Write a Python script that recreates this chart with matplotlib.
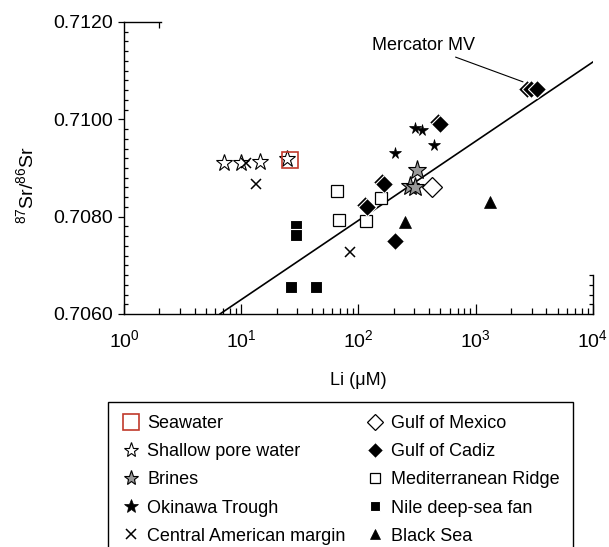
import numpy as np
import matplotlib
matplotlib.use("Agg")
import matplotlib.pyplot as plt
from matplotlib.ticker import LogLocator, MultipleLocator, NullFormatter

plt.rcParams['font.family'] = ['Liberation Sans', 'DejaVu Sans']
plt.rcParams['mathtext.fontset'] = 'custom'
plt.rcParams['mathtext.rm'] = 'Liberation Sans'
plt.rcParams['mathtext.it'] = 'Liberation Sans:italic'
plt.rcParams['mathtext.bf'] = 'Liberation Sans:bold'

# Li (uM) and 87Sr/86Sr for each group
seawater_li = [26]
seawater_sr = [0.70917]

shallow_li = [7.1, 10, 14.4, 24.6]
shallow_sr = [0.70910, 0.70910, 0.70912, 0.70918]

brines_li = [316, 275, 303]
brines_sr = [0.70896, 0.70863, 0.70861]

okinawa_li = [303, 348, 440, 205]
okinawa_sr = [0.70982, 0.70978, 0.70947, 0.70931]

cam_li = [11, 13.4, 84.5]
cam_sr = [0.70910, 0.70867, 0.70727]

gom_li = [424]
gom_sr = [0.70861]

cadiz_li = [113.6, 118, 159, 165, 476, 496, 2735, 2958, 3328, 205]
cadiz_sr = [0.70824, 0.70820, 0.70871, 0.70867, 0.70995, 0.70990,
            0.71062, 0.71062, 0.71062, 0.70750]

medridge_li = [65.6, 68, 116, 155]
medridge_sr = [0.70853, 0.70793, 0.70791, 0.70838]

nile_li = [29.3, 29.3, 26.6, 43.4]
nile_sr = [0.70781, 0.70762, 0.70656, 0.70656]

blacksea_li = [1324, 249]
blacksea_sr = [0.70830, 0.70789]

# regression: Sr = a + b * log10(Li)
fit_a = 0.704667
fit_b = 0.001628

# Mercator MV label and where its leader line ends
mercator_text = (986, 0.71152)
mercator_point = (2530, 0.71077)

fig = plt.figure(figsize=(6.09, 5.47), dpi=100)
ax = fig.add_axes([0.2036, 0.4260, 0.7701, 0.5338])

fit_x = np.logspace(np.log10(6.59), 4, 50)
ax.plot(fit_x, fit_a + fit_b * np.log10(fit_x), color='black', lw=1.2, zorder=1)

ax.plot(seawater_li, seawater_sr, 's', ms=11, mfc='none', mec='#c0392b', mew=1.2,
        label='Seawater', zorder=5)
ax.plot(shallow_li, shallow_sr, '*', ms=12.5, mfc='white', mec='black', mew=0.8,
        label='Shallow pore water', zorder=4)
ax.plot(brines_li, brines_sr, '*', ms=14, mfc='#999999', mec='black', mew=0.8,
        label='Brines', zorder=4)
ax.plot(okinawa_li, okinawa_sr, '*', ms=8.5, mfc='black', mec='black', mew=0.5,
        label='Okinawa Trough', zorder=4)
ax.plot(cam_li, cam_sr, 'x', ms=7.5, color='black', mew=1.1,
        label='Central American margin', zorder=4)
ax.plot(gom_li, gom_sr, 'D', ms=10, mfc='white', mec='black', mew=0.9,
        label='Gulf of Mexico', zorder=4)
ax.plot(cadiz_li, cadiz_sr, 'D', ms=9, mfc='black', mec='white', mew=0.8,
        label='Gulf of Cadiz', zorder=4)
ax.plot(medridge_li, medridge_sr, 's', ms=9, mfc='white', mec='black', mew=0.9,
        label='Mediterranean Ridge', zorder=3)
ax.plot(nile_li, nile_sr, 's', ms=8, mfc='black', mec='white', mew=0.8,
        label='Nile deep-sea fan', zorder=3)
ax.plot(blacksea_li, blacksea_sr, '^', ms=8, mfc='black', mec='black', mew=0.5,
        label='Black Sea', zorder=3)

ax.annotate('Mercator MV', xy=mercator_point, xytext=mercator_text,
            ha='right', va='center', fontsize=13,
            arrowprops=dict(arrowstyle='-', color='black', lw=0.8,
                            shrinkA=1, shrinkB=0))

ax.set_xscale('log')
ax.set_xlim(1, 1e4)
ax.set_ylim(0.7060, 0.7120)
ax.xaxis.set_major_locator(LogLocator(base=10, numticks=10))
ax.xaxis.set_minor_locator(LogLocator(base=10, subs=np.arange(2, 10), numticks=20))
ax.xaxis.set_minor_formatter(NullFormatter())
ax.yaxis.set_major_locator(MultipleLocator(0.002))
ax.yaxis.set_minor_locator(MultipleLocator(0.0002))
ax.yaxis.set_major_formatter(plt.FormatStrFormatter('%.4f'))

ax.tick_params(axis='x', which='major', direction='in', length=7, width=0.9,
               labelsize=14, pad=11, top=False)
ax.tick_params(axis='x', which='minor', direction='in', length=4, width=0.9, top=True)
ax.tick_params(axis='y', which='major', direction='out', length=4, width=0.9,
               labelsize=14, pad=4, right=False)
ax.tick_params(axis='y', which='minor', direction='in', length=3, width=0.9, right=True)

# only short pieces of the top and right frame are drawn
top_end = 2.05
right_end = 0.70681
for side in ['left', 'bottom', 'top', 'right']:
    ax.spines[side].set_linewidth(1.0)
ax.spines['top'].set_bounds(1, top_end)
ax.spines['right'].set_bounds(0.7060, right_end)

ax.set_xlabel('Li (\u03bcM)', fontsize=13, labelpad=15)
ax.set_ylabel('$^{87}$Sr/$^{86}$Sr', fontsize=14)
ax.yaxis.set_label_coords(-0.185, 0.44)

leg = fig.legend(loc='upper left', bbox_to_anchor=(0.1773, -0.3, 0.7635, 0.5651),
                 mode='expand', ncol=2, fontsize=13, frameon=True, fancybox=False,
                 edgecolor='black', framealpha=1, borderpad=0.72, labelspacing=0.62,
                 handlelength=1.1, handletextpad=0.35, borderaxespad=0,
                 columnspacing=1.0)
leg.get_frame().set_linewidth(1.0)
legend_sizes = [11, 11, 11, 10.5, 7, 8.5, 8, 7.5, 7.5, 7.5]
for handle, size in zip(leg.legend_handles, legend_sizes):
    handle.set_markersize(size)

fig.canvas.draw()
for t in ax.xaxis.get_minor_ticks():
    t.tick2line.set_visible(t.get_loc() <= top_end)
for t in ax.yaxis.get_minor_ticks():
    t.tick2line.set_visible(t.get_loc() <= right_end)

fig.savefig('out.png', dpi=100)
